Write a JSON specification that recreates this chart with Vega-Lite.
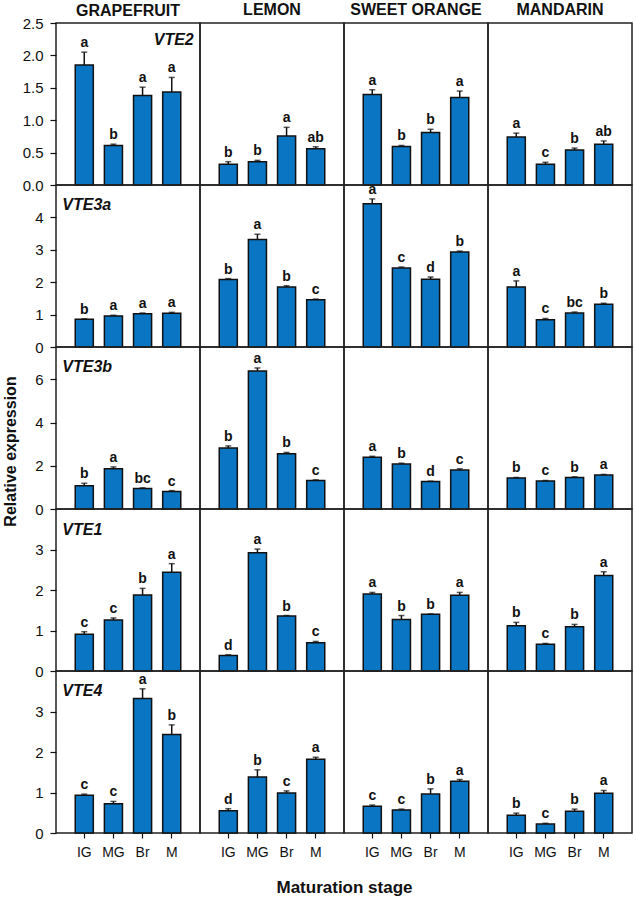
{
  "$schema": "https://vega.github.io/schema/vega-lite/v6.json",
  "padding": {"left": 1, "top": 1, "right": 0, "bottom": 0},
  "background": "white",
  "datasets": {
    "d": [
      {"g": "VTE2", "f": "GRAPEFRUIT", "s": "IG", "v": 1.85, "u": 2.05, "l": "a"},
      {"g": "VTE2", "f": "GRAPEFRUIT", "s": "MG", "v": 0.61, "u": 0.63, "l": "b"},
      {"g": "VTE2", "f": "GRAPEFRUIT", "s": "Br", "v": 1.38, "u": 1.51, "l": "a"},
      {"g": "VTE2", "f": "GRAPEFRUIT", "s": "M", "v": 1.435, "u": 1.66, "l": "a"},
      {"g": "VTE2", "f": "LEMON", "s": "IG", "v": 0.32, "u": 0.36, "l": "b"},
      {"g": "VTE2", "f": "LEMON", "s": "MG", "v": 0.36, "u": 0.38, "l": "b"},
      {"g": "VTE2", "f": "LEMON", "s": "Br", "v": 0.755, "u": 0.89, "l": "a"},
      {"g": "VTE2", "f": "LEMON", "s": "M", "v": 0.56, "u": 0.59, "l": "ab"},
      {"g": "VTE2", "f": "SWEET ORANGE", "s": "IG", "v": 1.395, "u": 1.47, "l": "a"},
      {"g": "VTE2", "f": "SWEET ORANGE", "s": "MG", "v": 0.595, "u": 0.61, "l": "b"},
      {"g": "VTE2", "f": "SWEET ORANGE", "s": "Br", "v": 0.81, "u": 0.86, "l": "b"},
      {"g": "VTE2", "f": "SWEET ORANGE", "s": "M", "v": 1.35, "u": 1.45, "l": "a"},
      {"g": "VTE2", "f": "MANDARIN", "s": "IG", "v": 0.74, "u": 0.8, "l": "a"},
      {"g": "VTE2", "f": "MANDARIN", "s": "MG", "v": 0.32, "u": 0.35, "l": "c"},
      {"g": "VTE2", "f": "MANDARIN", "s": "Br", "v": 0.54, "u": 0.57, "l": "b"},
      {"g": "VTE2", "f": "MANDARIN", "s": "M", "v": 0.63, "u": 0.68, "l": "ab"},
      {"g": "VTE3a", "f": "GRAPEFRUIT", "s": "IG", "v": 0.86, "u": 0.87, "l": "b"},
      {"g": "VTE3a", "f": "GRAPEFRUIT", "s": "MG", "v": 0.96, "u": 0.98, "l": "a"},
      {"g": "VTE3a", "f": "GRAPEFRUIT", "s": "Br", "v": 1.03, "u": 1.05, "l": "a"},
      {"g": "VTE3a", "f": "GRAPEFRUIT", "s": "M", "v": 1.04, "u": 1.07, "l": "a"},
      {"g": "VTE3a", "f": "LEMON", "s": "IG", "v": 2.08, "u": 2.11, "l": "b"},
      {"g": "VTE3a", "f": "LEMON", "s": "MG", "v": 3.32, "u": 3.48, "l": "a"},
      {"g": "VTE3a", "f": "LEMON", "s": "Br", "v": 1.85, "u": 1.89, "l": "b"},
      {"g": "VTE3a", "f": "LEMON", "s": "M", "v": 1.46, "u": 1.48, "l": "c"},
      {"g": "VTE3a", "f": "SWEET ORANGE", "s": "IG", "v": 4.42, "u": 4.57, "l": "a"},
      {"g": "VTE3a", "f": "SWEET ORANGE", "s": "MG", "v": 2.44, "u": 2.47, "l": "c"},
      {"g": "VTE3a", "f": "SWEET ORANGE", "s": "Br", "v": 2.09, "u": 2.16, "l": "d"},
      {"g": "VTE3a", "f": "SWEET ORANGE", "s": "M", "v": 2.93, "u": 2.96, "l": "b"},
      {"g": "VTE3a", "f": "MANDARIN", "s": "IG", "v": 1.85, "u": 2.04, "l": "a"},
      {"g": "VTE3a", "f": "MANDARIN", "s": "MG", "v": 0.84, "u": 0.88, "l": "c"},
      {"g": "VTE3a", "f": "MANDARIN", "s": "Br", "v": 1.05, "u": 1.08, "l": "bc"},
      {"g": "VTE3a", "f": "MANDARIN", "s": "M", "v": 1.32, "u": 1.35, "l": "b"},
      {"g": "VTE3b", "f": "GRAPEFRUIT", "s": "IG", "v": 1.08, "u": 1.19, "l": "b"},
      {"g": "VTE3b", "f": "GRAPEFRUIT", "s": "MG", "v": 1.86, "u": 1.95, "l": "a"},
      {"g": "VTE3b", "f": "GRAPEFRUIT", "s": "Br", "v": 0.95, "u": 0.98, "l": "bc"},
      {"g": "VTE3b", "f": "GRAPEFRUIT", "s": "M", "v": 0.81, "u": 0.85, "l": "c"},
      {"g": "VTE3b", "f": "LEMON", "s": "IG", "v": 2.82, "u": 2.92, "l": "b"},
      {"g": "VTE3b", "f": "LEMON", "s": "MG", "v": 6.39, "u": 6.53, "l": "a"},
      {"g": "VTE3b", "f": "LEMON", "s": "Br", "v": 2.56, "u": 2.62, "l": "b"},
      {"g": "VTE3b", "f": "LEMON", "s": "M", "v": 1.32, "u": 1.35, "l": "c"},
      {"g": "VTE3b", "f": "SWEET ORANGE", "s": "IG", "v": 2.4, "u": 2.44, "l": "a"},
      {"g": "VTE3b", "f": "SWEET ORANGE", "s": "MG", "v": 2.08, "u": 2.12, "l": "b"},
      {"g": "VTE3b", "f": "SWEET ORANGE", "s": "Br", "v": 1.27, "u": 1.29, "l": "d"},
      {"g": "VTE3b", "f": "SWEET ORANGE", "s": "M", "v": 1.8, "u": 1.86, "l": "c"},
      {"g": "VTE3b", "f": "MANDARIN", "s": "IG", "v": 1.44, "u": 1.46, "l": "b"},
      {"g": "VTE3b", "f": "MANDARIN", "s": "MG", "v": 1.3, "u": 1.32, "l": "c"},
      {"g": "VTE3b", "f": "MANDARIN", "s": "Br", "v": 1.46, "u": 1.49, "l": "b"},
      {"g": "VTE3b", "f": "MANDARIN", "s": "M", "v": 1.57, "u": 1.6, "l": "a"},
      {"g": "VTE1", "f": "GRAPEFRUIT", "s": "IG", "v": 0.91, "u": 0.97, "l": "c"},
      {"g": "VTE1", "f": "GRAPEFRUIT", "s": "MG", "v": 1.26, "u": 1.31, "l": "c"},
      {"g": "VTE1", "f": "GRAPEFRUIT", "s": "Br", "v": 1.875, "u": 2.04, "l": "b"},
      {"g": "VTE1", "f": "GRAPEFRUIT", "s": "M", "v": 2.44, "u": 2.65, "l": "a"},
      {"g": "VTE1", "f": "LEMON", "s": "IG", "v": 0.385, "u": 0.4, "l": "d"},
      {"g": "VTE1", "f": "LEMON", "s": "MG", "v": 2.92, "u": 3.01, "l": "a"},
      {"g": "VTE1", "f": "LEMON", "s": "Br", "v": 1.36, "u": 1.37, "l": "b"},
      {"g": "VTE1", "f": "LEMON", "s": "M", "v": 0.7, "u": 0.73, "l": "c"},
      {"g": "VTE1", "f": "SWEET ORANGE", "s": "IG", "v": 1.9, "u": 1.94, "l": "a"},
      {"g": "VTE1", "f": "SWEET ORANGE", "s": "MG", "v": 1.27, "u": 1.37, "l": "b"},
      {"g": "VTE1", "f": "SWEET ORANGE", "s": "Br", "v": 1.4, "u": 1.41, "l": "b"},
      {"g": "VTE1", "f": "SWEET ORANGE", "s": "M", "v": 1.87, "u": 1.94, "l": "a"},
      {"g": "VTE1", "f": "MANDARIN", "s": "IG", "v": 1.12, "u": 1.2, "l": "b"},
      {"g": "VTE1", "f": "MANDARIN", "s": "MG", "v": 0.66, "u": 0.68, "l": "c"},
      {"g": "VTE1", "f": "MANDARIN", "s": "Br", "v": 1.09, "u": 1.15, "l": "b"},
      {"g": "VTE1", "f": "MANDARIN", "s": "M", "v": 2.36, "u": 2.45, "l": "a"},
      {"g": "VTE4", "f": "GRAPEFRUIT", "s": "IG", "v": 0.93, "u": 0.96, "l": "c"},
      {"g": "VTE4", "f": "GRAPEFRUIT", "s": "MG", "v": 0.72, "u": 0.78, "l": "c"},
      {"g": "VTE4", "f": "GRAPEFRUIT", "s": "Br", "v": 3.32, "u": 3.56, "l": "a"},
      {"g": "VTE4", "f": "GRAPEFRUIT", "s": "M", "v": 2.43, "u": 2.67, "l": "b"},
      {"g": "VTE4", "f": "LEMON", "s": "IG", "v": 0.55, "u": 0.6, "l": "d"},
      {"g": "VTE4", "f": "LEMON", "s": "MG", "v": 1.38, "u": 1.56, "l": "b"},
      {"g": "VTE4", "f": "LEMON", "s": "Br", "v": 0.99, "u": 1.04, "l": "c"},
      {"g": "VTE4", "f": "LEMON", "s": "M", "v": 1.82, "u": 1.87, "l": "a"},
      {"g": "VTE4", "f": "SWEET ORANGE", "s": "IG", "v": 0.66, "u": 0.69, "l": "c"},
      {"g": "VTE4", "f": "SWEET ORANGE", "s": "MG", "v": 0.57, "u": 0.59, "l": "c"},
      {"g": "VTE4", "f": "SWEET ORANGE", "s": "Br", "v": 0.96, "u": 1.09, "l": "b"},
      {"g": "VTE4", "f": "SWEET ORANGE", "s": "M", "v": 1.28, "u": 1.32, "l": "a"},
      {"g": "VTE4", "f": "MANDARIN", "s": "IG", "v": 0.44, "u": 0.49, "l": "b"},
      {"g": "VTE4", "f": "MANDARIN", "s": "MG", "v": 0.22, "u": 0.24, "l": "c"},
      {"g": "VTE4", "f": "MANDARIN", "s": "Br", "v": 0.54, "u": 0.59, "l": "b"},
      {"g": "VTE4", "f": "MANDARIN", "s": "M", "v": 0.98, "u": 1.05, "l": "a"}
    ]
  },
  "data": {"name": "d"},
  "columns": 4,
  "spacing": 0,
  "bounds": "flush",
  "concat": [
    {"width": 144, "height": 162, "title": {"text": "GRAPEFRUIT", "offset": -3},
     "transform": [{"filter": "datum.g=='VTE2' && datum.f=='GRAPEFRUIT'"}],
     "encoding": {"x": {"field": "s", "type": "nominal", "sort": ["IG", "MG", "Br", "M"], "scale": {"paddingInner": 0.38, "paddingOuter": 0.66}, "axis": null},
                  "y": {"field": "v", "type": "quantitative", "scale": {"domain": [0, 2.5], "nice": false}, "axis": {"values": [0, 0.5, 1, 1.5, 2, 2.5], "format": ".1f", "title": null, "labelOverlap": false}}},
     "layer": [
       {"mark": "bar"},
       {"mark": "rule", "encoding": {"y2": {"field": "u"}}},
       {"mark": {"type": "tick", "size": 6}, "encoding": {"y": {"field": "u", "type": "quantitative", "axis": {"values": [0, 0.5, 1, 1.5, 2, 2.5], "format": ".1f", "title": null, "labelOverlap": false}}}},
       {"mark": "text", "encoding": {"y": {"field": "u", "type": "quantitative", "axis": {"values": [0, 0.5, 1, 1.5, 2, 2.5], "format": ".1f", "title": null, "labelOverlap": false}}, "text": {"field": "l"}}},
       {"transform": [{"filter": "datum.s=='IG'"}], "mark": {"type": "text", "align": "right", "baseline": "top", "dx": 22, "dy": 9, "fontStyle": "italic", "fontSize": 16}, "encoding": {"x": {"datum": "M"}, "y": {"datum": 2.5, "axis": {"values": [0, 0.5, 1, 1.5, 2, 2.5], "format": ".1f", "title": null, "labelOverlap": false}}, "text": {"field": "g"}}}
     ]},
    {"width": 144, "height": 162, "title": "LEMON",
     "transform": [{"filter": "datum.g=='VTE2' && datum.f=='LEMON'"}],
     "encoding": {"x": {"field": "s", "type": "nominal", "sort": ["IG", "MG", "Br", "M"], "scale": {"paddingInner": 0.38, "paddingOuter": 0.66}, "axis": null},
                  "y": {"field": "v", "type": "quantitative", "scale": {"domain": [0, 2.5], "nice": false}, "axis": null}},
     "layer": [
       {"mark": "bar"},
       {"mark": "rule", "encoding": {"y2": {"field": "u"}}},
       {"mark": {"type": "tick", "size": 6}, "encoding": {"y": {"field": "u", "type": "quantitative", "axis": null}}},
       {"mark": "text", "encoding": {"y": {"field": "u", "type": "quantitative", "axis": null}, "text": {"field": "l"}}}
     ]},
    {"width": 144, "height": 162, "title": "SWEET ORANGE",
     "transform": [{"filter": "datum.g=='VTE2' && datum.f=='SWEET ORANGE'"}],
     "encoding": {"x": {"field": "s", "type": "nominal", "sort": ["IG", "MG", "Br", "M"], "scale": {"paddingInner": 0.38, "paddingOuter": 0.66}, "axis": null},
                  "y": {"field": "v", "type": "quantitative", "scale": {"domain": [0, 2.5], "nice": false}, "axis": null}},
     "layer": [
       {"mark": "bar"},
       {"mark": "rule", "encoding": {"y2": {"field": "u"}}},
       {"mark": {"type": "tick", "size": 6}, "encoding": {"y": {"field": "u", "type": "quantitative", "axis": null}}},
       {"mark": "text", "encoding": {"y": {"field": "u", "type": "quantitative", "axis": null}, "text": {"field": "l"}}}
     ]},
    {"width": 144, "height": 162, "title": "MANDARIN",
     "transform": [{"filter": "datum.g=='VTE2' && datum.f=='MANDARIN'"}],
     "encoding": {"x": {"field": "s", "type": "nominal", "sort": ["IG", "MG", "Br", "M"], "scale": {"paddingInner": 0.38, "paddingOuter": 0.66}, "axis": null},
                  "y": {"field": "v", "type": "quantitative", "scale": {"domain": [0, 2.5], "nice": false}, "axis": null}},
     "layer": [
       {"mark": "bar"},
       {"mark": "rule", "encoding": {"y2": {"field": "u"}}},
       {"mark": {"type": "tick", "size": 6}, "encoding": {"y": {"field": "u", "type": "quantitative", "axis": null}}},
       {"mark": "text", "encoding": {"y": {"field": "u", "type": "quantitative", "axis": null}, "text": {"field": "l"}}}
     ]},

    {"width": 144, "height": 162,
     "transform": [{"filter": "datum.g=='VTE3a' && datum.f=='GRAPEFRUIT'"}],
     "encoding": {"x": {"field": "s", "type": "nominal", "sort": ["IG", "MG", "Br", "M"], "scale": {"paddingInner": 0.38, "paddingOuter": 0.66}, "axis": null},
                  "y": {"field": "v", "type": "quantitative", "scale": {"domain": [0, 5], "nice": false}, "axis": {"values": [0, 1, 2, 3, 4], "title": null}}},
     "layer": [
       {"mark": "bar"},
       {"mark": "rule", "encoding": {"y2": {"field": "u"}}},
       {"mark": {"type": "tick", "size": 6}, "encoding": {"y": {"field": "u", "type": "quantitative", "axis": {"values": [0, 1, 2, 3, 4], "title": null}}}},
       {"mark": "text", "encoding": {"y": {"field": "u", "type": "quantitative", "axis": {"values": [0, 1, 2, 3, 4], "title": null}}, "text": {"field": "l"}}},
       {"transform": [{"filter": "datum.s=='IG'"}], "mark": {"type": "text", "align": "left", "baseline": "top", "dx": -22, "dy": 12, "fontStyle": "italic", "fontSize": 16}, "encoding": {"x": {"datum": "IG"}, "y": {"datum": 5, "axis": {"values": [0, 1, 2, 3, 4], "title": null}}, "text": {"field": "g"}}}
     ]},
    {"width": 144, "height": 162,
     "transform": [{"filter": "datum.g=='VTE3a' && datum.f=='LEMON'"}],
     "encoding": {"x": {"field": "s", "type": "nominal", "sort": ["IG", "MG", "Br", "M"], "scale": {"paddingInner": 0.38, "paddingOuter": 0.66}, "axis": null},
                  "y": {"field": "v", "type": "quantitative", "scale": {"domain": [0, 5], "nice": false}, "axis": null}},
     "layer": [
       {"mark": "bar"},
       {"mark": "rule", "encoding": {"y2": {"field": "u"}}},
       {"mark": {"type": "tick", "size": 6}, "encoding": {"y": {"field": "u", "type": "quantitative", "axis": null}}},
       {"mark": "text", "encoding": {"y": {"field": "u", "type": "quantitative", "axis": null}, "text": {"field": "l"}}}
     ]},
    {"width": 144, "height": 162,
     "transform": [{"filter": "datum.g=='VTE3a' && datum.f=='SWEET ORANGE'"}],
     "encoding": {"x": {"field": "s", "type": "nominal", "sort": ["IG", "MG", "Br", "M"], "scale": {"paddingInner": 0.38, "paddingOuter": 0.66}, "axis": null},
                  "y": {"field": "v", "type": "quantitative", "scale": {"domain": [0, 5], "nice": false}, "axis": null}},
     "layer": [
       {"mark": "bar"},
       {"mark": "rule", "encoding": {"y2": {"field": "u"}}},
       {"mark": {"type": "tick", "size": 6}, "encoding": {"y": {"field": "u", "type": "quantitative", "axis": null}}},
       {"mark": "text", "encoding": {"y": {"field": "u", "type": "quantitative", "axis": null}, "text": {"field": "l"}}}
     ]},
    {"width": 144, "height": 162,
     "transform": [{"filter": "datum.g=='VTE3a' && datum.f=='MANDARIN'"}],
     "encoding": {"x": {"field": "s", "type": "nominal", "sort": ["IG", "MG", "Br", "M"], "scale": {"paddingInner": 0.38, "paddingOuter": 0.66}, "axis": null},
                  "y": {"field": "v", "type": "quantitative", "scale": {"domain": [0, 5], "nice": false}, "axis": null}},
     "layer": [
       {"mark": "bar"},
       {"mark": "rule", "encoding": {"y2": {"field": "u"}}},
       {"mark": {"type": "tick", "size": 6}, "encoding": {"y": {"field": "u", "type": "quantitative", "axis": null}}},
       {"mark": "text", "encoding": {"y": {"field": "u", "type": "quantitative", "axis": null}, "text": {"field": "l"}}}
     ]},

    {"width": 144, "height": 162,
     "transform": [{"filter": "datum.g=='VTE3b' && datum.f=='GRAPEFRUIT'"}],
     "encoding": {"x": {"field": "s", "type": "nominal", "sort": ["IG", "MG", "Br", "M"], "scale": {"paddingInner": 0.38, "paddingOuter": 0.66}, "axis": null},
                  "y": {"field": "v", "type": "quantitative", "scale": {"domain": [0, 7.5], "nice": false}, "axis": {"values": [0, 2, 4, 6], "title": "Relative expression", "titleFontSize": 16, "titleFontWeight": "bold", "titleColor": "#111", "titlePadding": 16, "titleY": 104}}},
     "layer": [
       {"mark": "bar"},
       {"mark": "rule", "encoding": {"y2": {"field": "u"}}},
       {"mark": {"type": "tick", "size": 6}, "encoding": {"y": {"field": "u", "type": "quantitative", "axis": {"values": [0, 2, 4, 6], "title": "Relative expression", "titleFontSize": 16, "titleFontWeight": "bold", "titleColor": "#111", "titlePadding": 16, "titleY": 104}}}},
       {"mark": "text", "encoding": {"y": {"field": "u", "type": "quantitative", "axis": {"values": [0, 2, 4, 6], "title": "Relative expression", "titleFontSize": 16, "titleFontWeight": "bold", "titleColor": "#111", "titlePadding": 16, "titleY": 104}}, "text": {"field": "l"}}},
       {"transform": [{"filter": "datum.s=='IG'"}], "mark": {"type": "text", "align": "left", "baseline": "top", "dx": -22, "dy": 12, "fontStyle": "italic", "fontSize": 16}, "encoding": {"x": {"datum": "IG"}, "y": {"datum": 7.5, "axis": {"values": [0, 2, 4, 6], "title": "Relative expression", "titleFontSize": 16, "titleFontWeight": "bold", "titleColor": "#111", "titlePadding": 16, "titleY": 104}}, "text": {"field": "g"}}}
     ]},
    {"width": 144, "height": 162,
     "transform": [{"filter": "datum.g=='VTE3b' && datum.f=='LEMON'"}],
     "encoding": {"x": {"field": "s", "type": "nominal", "sort": ["IG", "MG", "Br", "M"], "scale": {"paddingInner": 0.38, "paddingOuter": 0.66}, "axis": null},
                  "y": {"field": "v", "type": "quantitative", "scale": {"domain": [0, 7.5], "nice": false}, "axis": null}},
     "layer": [
       {"mark": "bar"},
       {"mark": "rule", "encoding": {"y2": {"field": "u"}}},
       {"mark": {"type": "tick", "size": 6}, "encoding": {"y": {"field": "u", "type": "quantitative", "axis": null}}},
       {"mark": "text", "encoding": {"y": {"field": "u", "type": "quantitative", "axis": null}, "text": {"field": "l"}}}
     ]},
    {"width": 144, "height": 162,
     "transform": [{"filter": "datum.g=='VTE3b' && datum.f=='SWEET ORANGE'"}],
     "encoding": {"x": {"field": "s", "type": "nominal", "sort": ["IG", "MG", "Br", "M"], "scale": {"paddingInner": 0.38, "paddingOuter": 0.66}, "axis": null},
                  "y": {"field": "v", "type": "quantitative", "scale": {"domain": [0, 7.5], "nice": false}, "axis": null}},
     "layer": [
       {"mark": "bar"},
       {"mark": "rule", "encoding": {"y2": {"field": "u"}}},
       {"mark": {"type": "tick", "size": 6}, "encoding": {"y": {"field": "u", "type": "quantitative", "axis": null}}},
       {"mark": "text", "encoding": {"y": {"field": "u", "type": "quantitative", "axis": null}, "text": {"field": "l"}}}
     ]},
    {"width": 144, "height": 162,
     "transform": [{"filter": "datum.g=='VTE3b' && datum.f=='MANDARIN'"}],
     "encoding": {"x": {"field": "s", "type": "nominal", "sort": ["IG", "MG", "Br", "M"], "scale": {"paddingInner": 0.38, "paddingOuter": 0.66}, "axis": null},
                  "y": {"field": "v", "type": "quantitative", "scale": {"domain": [0, 7.5], "nice": false}, "axis": null}},
     "layer": [
       {"mark": "bar"},
       {"mark": "rule", "encoding": {"y2": {"field": "u"}}},
       {"mark": {"type": "tick", "size": 6}, "encoding": {"y": {"field": "u", "type": "quantitative", "axis": null}}},
       {"mark": "text", "encoding": {"y": {"field": "u", "type": "quantitative", "axis": null}, "text": {"field": "l"}}}
     ]},

    {"width": 144, "height": 162,
     "transform": [{"filter": "datum.g=='VTE1' && datum.f=='GRAPEFRUIT'"}],
     "encoding": {"x": {"field": "s", "type": "nominal", "sort": ["IG", "MG", "Br", "M"], "scale": {"paddingInner": 0.38, "paddingOuter": 0.66}, "axis": null},
                  "y": {"field": "v", "type": "quantitative", "scale": {"domain": [0, 4], "nice": false}, "axis": {"values": [0, 1, 2, 3], "title": null}}},
     "layer": [
       {"mark": "bar"},
       {"mark": "rule", "encoding": {"y2": {"field": "u"}}},
       {"mark": {"type": "tick", "size": 6}, "encoding": {"y": {"field": "u", "type": "quantitative", "axis": {"values": [0, 1, 2, 3], "title": null}}}},
       {"mark": "text", "encoding": {"y": {"field": "u", "type": "quantitative", "axis": {"values": [0, 1, 2, 3], "title": null}}, "text": {"field": "l"}}},
       {"transform": [{"filter": "datum.s=='IG'"}], "mark": {"type": "text", "align": "left", "baseline": "top", "dx": -22, "dy": 13, "fontStyle": "italic", "fontSize": 16}, "encoding": {"x": {"datum": "IG"}, "y": {"datum": 4, "axis": {"values": [0, 1, 2, 3], "title": null}}, "text": {"field": "g"}}}
     ]},
    {"width": 144, "height": 162,
     "transform": [{"filter": "datum.g=='VTE1' && datum.f=='LEMON'"}],
     "encoding": {"x": {"field": "s", "type": "nominal", "sort": ["IG", "MG", "Br", "M"], "scale": {"paddingInner": 0.38, "paddingOuter": 0.66}, "axis": null},
                  "y": {"field": "v", "type": "quantitative", "scale": {"domain": [0, 4], "nice": false}, "axis": null}},
     "layer": [
       {"mark": "bar"},
       {"mark": "rule", "encoding": {"y2": {"field": "u"}}},
       {"mark": {"type": "tick", "size": 6}, "encoding": {"y": {"field": "u", "type": "quantitative", "axis": null}}},
       {"mark": "text", "encoding": {"y": {"field": "u", "type": "quantitative", "axis": null}, "text": {"field": "l"}}}
     ]},
    {"width": 144, "height": 162,
     "transform": [{"filter": "datum.g=='VTE1' && datum.f=='SWEET ORANGE'"}],
     "encoding": {"x": {"field": "s", "type": "nominal", "sort": ["IG", "MG", "Br", "M"], "scale": {"paddingInner": 0.38, "paddingOuter": 0.66}, "axis": null},
                  "y": {"field": "v", "type": "quantitative", "scale": {"domain": [0, 4], "nice": false}, "axis": null}},
     "layer": [
       {"mark": "bar"},
       {"mark": "rule", "encoding": {"y2": {"field": "u"}}},
       {"mark": {"type": "tick", "size": 6}, "encoding": {"y": {"field": "u", "type": "quantitative", "axis": null}}},
       {"mark": "text", "encoding": {"y": {"field": "u", "type": "quantitative", "axis": null}, "text": {"field": "l"}}}
     ]},
    {"width": 144, "height": 162,
     "transform": [{"filter": "datum.g=='VTE1' && datum.f=='MANDARIN'"}],
     "encoding": {"x": {"field": "s", "type": "nominal", "sort": ["IG", "MG", "Br", "M"], "scale": {"paddingInner": 0.38, "paddingOuter": 0.66}, "axis": null},
                  "y": {"field": "v", "type": "quantitative", "scale": {"domain": [0, 4], "nice": false}, "axis": null}},
     "layer": [
       {"mark": "bar"},
       {"mark": "rule", "encoding": {"y2": {"field": "u"}}},
       {"mark": {"type": "tick", "size": 6}, "encoding": {"y": {"field": "u", "type": "quantitative", "axis": null}}},
       {"mark": "text", "encoding": {"y": {"field": "u", "type": "quantitative", "axis": null}, "text": {"field": "l"}}}
     ]},

    {"width": 144, "height": 162,
     "transform": [{"filter": "datum.g=='VTE4' && datum.f=='GRAPEFRUIT'"}],
     "encoding": {"x": {"field": "s", "type": "nominal", "sort": ["IG", "MG", "Br", "M"], "scale": {"paddingInner": 0.38, "paddingOuter": 0.66}, "axis": {"title": null, "labelAngle": 0}},
                  "y": {"field": "v", "type": "quantitative", "scale": {"domain": [0, 4], "nice": false}, "axis": {"values": [0, 1, 2, 3], "title": null}}},
     "layer": [
       {"mark": "bar"},
       {"mark": "rule", "encoding": {"y2": {"field": "u"}}},
       {"mark": {"type": "tick", "size": 6}, "encoding": {"y": {"field": "u", "type": "quantitative", "axis": {"values": [0, 1, 2, 3], "title": null}}}},
       {"mark": "text", "encoding": {"y": {"field": "u", "type": "quantitative", "axis": {"values": [0, 1, 2, 3], "title": null}}, "text": {"field": "l"}}},
       {"transform": [{"filter": "datum.s=='IG'"}], "mark": {"type": "text", "align": "left", "baseline": "top", "dx": -22, "dy": 12, "fontStyle": "italic", "fontSize": 16}, "encoding": {"x": {"datum": "IG", "axis": {"title": null, "labelAngle": 0}}, "y": {"datum": 4, "axis": {"values": [0, 1, 2, 3], "title": null}}, "text": {"field": "g"}}}
     ]},
    {"width": 144, "height": 162,
     "transform": [{"filter": "datum.g=='VTE4' && datum.f=='LEMON'"}],
     "encoding": {"x": {"field": "s", "type": "nominal", "sort": ["IG", "MG", "Br", "M"], "scale": {"paddingInner": 0.38, "paddingOuter": 0.66}, "axis": {"title": "Maturation stage", "titleX": 144, "titleFontSize": 17, "titleFontWeight": "bold", "titleColor": "#111", "titlePadding": 20, "labelAngle": 0}},
                  "y": {"field": "v", "type": "quantitative", "scale": {"domain": [0, 4], "nice": false}, "axis": null}},
     "layer": [
       {"mark": "bar"},
       {"mark": "rule", "encoding": {"y2": {"field": "u"}}},
       {"mark": {"type": "tick", "size": 6}, "encoding": {"y": {"field": "u", "type": "quantitative", "axis": null}}},
       {"mark": "text", "encoding": {"y": {"field": "u", "type": "quantitative", "axis": null}, "text": {"field": "l"}}}
     ]},
    {"width": 144, "height": 162,
     "transform": [{"filter": "datum.g=='VTE4' && datum.f=='SWEET ORANGE'"}],
     "encoding": {"x": {"field": "s", "type": "nominal", "sort": ["IG", "MG", "Br", "M"], "scale": {"paddingInner": 0.38, "paddingOuter": 0.66}, "axis": {"title": null, "labelAngle": 0}},
                  "y": {"field": "v", "type": "quantitative", "scale": {"domain": [0, 4], "nice": false}, "axis": null}},
     "layer": [
       {"mark": "bar"},
       {"mark": "rule", "encoding": {"y2": {"field": "u"}}},
       {"mark": {"type": "tick", "size": 6}, "encoding": {"y": {"field": "u", "type": "quantitative", "axis": null}}},
       {"mark": "text", "encoding": {"y": {"field": "u", "type": "quantitative", "axis": null}, "text": {"field": "l"}}}
     ]},
    {"width": 144, "height": 162,
     "transform": [{"filter": "datum.g=='VTE4' && datum.f=='MANDARIN'"}],
     "encoding": {"x": {"field": "s", "type": "nominal", "sort": ["IG", "MG", "Br", "M"], "scale": {"paddingInner": 0.38, "paddingOuter": 0.66}, "axis": {"title": null, "labelAngle": 0}},
                  "y": {"field": "v", "type": "quantitative", "scale": {"domain": [0, 4], "nice": false}, "axis": null}},
     "layer": [
       {"mark": "bar"},
       {"mark": "rule", "encoding": {"y2": {"field": "u"}}},
       {"mark": {"type": "tick", "size": 6}, "encoding": {"y": {"field": "u", "type": "quantitative", "axis": null}}},
       {"mark": "text", "encoding": {"y": {"field": "u", "type": "quantitative", "axis": null}, "text": {"field": "l"}}}
     ]}
  ],
  "config": {
    "font": "Liberation Sans",
    "view": {"stroke": "#222", "strokeWidth": 1.5},
    "bar": {"fill": "#0a75c2", "stroke": "#111", "strokeWidth": 1.5},
    "rule": {"strokeWidth": 1.5, "color": "#111"},
    "tick": {"thickness": 1.5, "color": "#111"},
    "text": {"baseline": "alphabetic", "dy": -5, "fontWeight": "bold", "fontSize": 14, "color": "#111"},
    "title": {"fontSize": 16, "fontWeight": "bold", "color": "#111", "anchor": "middle", "frame": "group", "offset": 5},
    "axis": {"labelColor": "#111", "tickColor": "#111", "tickWidth": 1.2, "domain": false, "grid": false},
    "axisY": {"labelFontSize": 15, "tickSize": 6, "labelPadding": 7},
    "axisX": {"labelFontSize": 14, "tickSize": 5, "labelPadding": 7}
  }
}
